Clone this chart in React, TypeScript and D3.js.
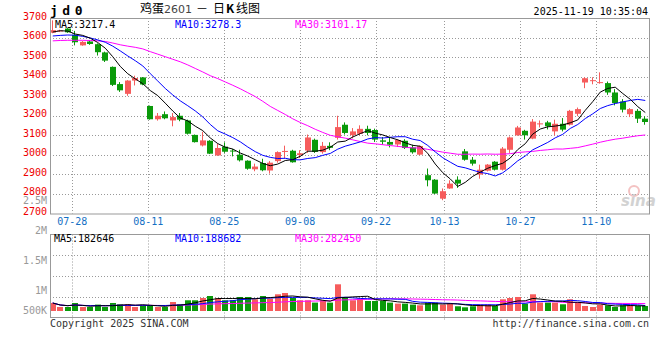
import React from 'react';
import * as d3 from 'd3';

// ---- data ----
const opens = [3625,3633,3646,3614,3560,3580,3566,3524,3450,3362,3312,3380,3396,3250,3182,3208,3176,3200,3176,3102,3048,3072,2997,3042,3022,3001,2970,2926,2958,2920,2968,3016,3021,2999,3022,3077,3014,3046,3087,3154,3101,3108,3133,3127,3074,3066,3053,3072,3038,3001,2896,2873,2776,2828,2873,3018,2975,2899,2919,2965,2924,3026,3100,3123,3083,3156,3166,3120,3159,3154,3210,3370,3378,3368,3367,3319,3273,3208,3225,3185];
const highs = [3688,3640,3648,3634,3582,3585,3570,3528,3452,3372,3382,3405,3398,3252,3214,3222,3214,3214,3180,3104,3118,3075,3056,3064,3030,3026,2972,2955,2980,2968,3018,3047,3026,3024,3104,3083,3066,3064,3200,3166,3137,3151,3149,3134,3091,3086,3080,3080,3052,3047,2930,2876,2828,2870,2890,3030,2989,2950,2953,2968,3040,3094,3148,3128,3183,3176,3174,3180,3188,3230,3242,3397,3397,3422,3375,3336,3285,3239,3234,3197];
const lows = [3622,3628,3624,3560,3558,3563,3508,3475,3352,3322,3302,3355,3356,3180,3175,3182,3146,3172,3104,3063,3043,3004,2995,3010,2992,2966,2924,2916,2916,2904,2960,2982,2960,2984,3010,3010,3006,3024,3078,3104,3084,3100,3100,3066,3052,3038,3040,3030,3006,2998,2839,2800,2768,2826,2831,2970,2945,2878,2915,2920,2920,3010,3098,3078,3080,3140,3130,3100,3120,3150,3198,3341,3361,3364,3307,3253,3217,3193,3163,3154];
const closes = [3638,3636,3627,3576,3578,3567,3525,3482,3358,3330,3380,3393,3360,3182,3200,3187,3193,3180,3108,3065,3074,3006,3035,3016,3018,2972,2929,2940,2921,2960,3014,3020,2962,3008,3089,3015,3046,3036,3142,3112,3120,3133,3112,3078,3067,3052,3076,3035,3013,3045,2870,2802,2814,2853,2853,2975,2955,2924,2950,2924,3032,3089,3140,3100,3170,3161,3146,3159,3129,3225,3234,3392,3382,3372,3319,3265,3231,3234,3185,3168];
const volumes = [267000,133000,133000,267000,133000,133000,213000,133000,267000,223000,223000,133000,190000,190000,133000,133000,300000,223000,357000,357000,433000,500000,433000,357000,357000,467000,467000,390000,500000,413000,557000,600000,433000,357000,357000,280000,357000,280000,890000,467000,357000,413000,333000,333000,333000,280000,247000,247000,213000,190000,280000,280000,213000,257000,157000,123000,157000,213000,213000,167000,390000,433000,467000,247000,557000,280000,280000,280000,223000,390000,280000,167000,133000,213000,190000,133000,190000,190000,167000,167000];
// moving-average values before enough history is inside the window
const ma5Early = [3628, 3635, 3633, 3618];
const ma10Early = [3608, 3611, 3613, 3612, 3606, 3598, 3588, 3576, 3556];
const ma30Early = [3583,3585,3586,3586,3586,3585,3583,3580,3572,3563,3556,3550,3542,3528,3515,3502,3489,3476,3460,3442,3424,3405,3390,3373,3356,3338,3318,3298,3274];

const tickIndex = [3, 13, 23, 33, 43, 52, 62, 72];
const tickLabels = ['07-28', '08-11', '08-25', '09-08', '09-22', '10-13', '10-27', '11-10'];
const priceTicks = [3700, 3600, 3500, 3400, 3300, 3200, 3100, 3000, 2900, 2800, 2700];
const volTickValues = [2500000, 2000000, 1500000, 1000000, 500000];
const volTickLabels = ['2.5M', '2M', '1.5M', '1M', '500K'];
const mainMaLabels = ['MA5:3217.4', 'MA10:3278.3', 'MA30:3101.17'];
const volMaLabels = ['MA5:182646', 'MA10:188682', 'MA30:282450'];
const maColors = ['#000000', '#0000ff', '#ff00ff'];

const RED = '#f65c5c';
const GREEN = '#0a9a0a';
const MONO = "'DejaVu Sans Mono', 'Liberation Mono', monospace";
const CJK = "'Noto Sans CJK SC', sans-serif";

function movingAvg(vals: number[], n: number, early: number[] | null): number[] {
  return vals.map((_, i) => {
    if (i < n - 1) {
      if (early) return early[i];
      return d3.mean(vals.slice(0, i + 1)) as number;
    }
    return d3.mean(vals.slice(i - n + 1, i + 1)) as number;
  });
}

export default function App() {
  const L = 50, R = 649, T = 18, B = 213.5;
  const VT = 234.5, VB = 317.5;
  const n = closes.length;

  const x = d3.scaleBand<number>().domain(d3.range(n)).range([49, 649]).paddingInner(0.2).paddingOuter(0.1);
  const bw = x.bandwidth();
  const cx = (i: number) => (x(i) as number) + bw / 2;
  const gx = d3.scaleLinear().domain([0, n - 1]).range([49.5, 649.5]);
  const y = d3.scaleLinear().domain([2700, 3700]).range([B, T]);
  const yv = d3.scaleLinear().domain([0, 1000000]).range([311, 281]);
  const yvLabel = d3.scaleLinear().domain([1000000, 2000000]).range([290.5, 230.5]);

  const ma5 = movingAvg(closes, 5, ma5Early);
  const ma10 = movingAvg(closes, 10, ma10Early);
  const ma30 = movingAvg(closes, 30, ma30Early);
  const vma5 = movingAvg(volumes, 5, null);
  const vma10 = movingAvg(volumes, 10, null);
  const vma30 = movingAvg(volumes, 30, null);

  const line = d3.line<number>().x((_, i) => cx(i)).y((d) => y(d));
  const vline = d3.line<number>().x((_, i) => cx(i)).y((d) => yv(d));

  const snap = (v: number) => Math.round(v) + 0.5;
  const volGridYs = d3.range(1, 4).map((k) => VT + ((VB - VT) * k) / 4);

  return (
    <svg width={660} height={360} style={{ position: 'absolute', left: 0, top: 0, background: '#fff' }}>
      <rect x={0} y={0} width={660} height={360} fill="#fff" />
      {/* header */}
      <text x={50} y={15} fontFamily={MONO} fontWeight="bold" fontSize={13} letterSpacing={4.5} fill="#000">jd0</text>
      <text y={13} fontFamily={CJK} fontSize={12} fill="#000">
        <tspan x={140}>鸡蛋</tspan>
        <tspan x={164} fill="#444" fontFamily="'DejaVu Sans', sans-serif" fontSize={11}>2601</tspan>
        <tspan x={196}>－</tspan>
        <tspan x={213}>日</tspan>
        <tspan x={226} fontWeight="bold">K</tspan>
        <tspan x={236}>线图</tspan>
      </text>
      <text x={648} y={15} textAnchor="end" fontFamily={MONO} fontSize={10} fill="#000">2025-11-19 10:35:04</text>

      {/* main grid */}
      {priceTicks.filter((p) => p > 2700 && p < 3700).map((p) => (
        <line key={'hg' + p} x1={L} x2={R} y1={snap(y(p))} y2={snap(y(p))} stroke="#999" strokeDasharray="1,2" />
      ))}
      {tickIndex.map((t) => (
        <line key={'vg' + t} x1={snap(gx(t))} x2={snap(gx(t))} y1={T} y2={B} stroke="#999" strokeDasharray="1,2" />
      ))}
      {/* volume grid */}
      {volGridYs.map((gy, k) => (
        <line key={'vh' + k} x1={L} x2={R} y1={snap(gy)} y2={snap(gy)} stroke="#999" strokeDasharray="1,2" />
      ))}
      {tickIndex.map((t) => (
        <line key={'vv' + t} x1={snap(gx(t))} x2={snap(gx(t))} y1={VT} y2={VB + 2} stroke="#999" strokeDasharray="1,2" />
      ))}

      {/* price labels */}
      {priceTicks.map((p) => (
        <text key={'pl' + p} x={47} y={y(p) - 2} dy="0.35em" textAnchor="end" fontFamily={MONO} fontSize={10} fill="#ee0000">{p}</text>
      ))}
      {/* volume labels */}
      {volTickValues.map((v, k) => (
        <text key={'vl' + k} x={47} y={Math.min(yvLabel(v), 310.5)} dy="0.35em" textAnchor="end" fontFamily={MONO} fontSize={10} fill="#999">{volTickLabels[k]}</text>
      ))}
      {/* date labels */}
      {tickIndex.map((t, k) => (
        <text key={'dl' + t} x={gx(t)} y={221} dy="0.35em" textAnchor="middle" fontFamily={MONO} fontSize={10} fill="#1470c4">{tickLabels[k]}</text>
      ))}

      {/* watermark */}
      <g opacity={0.8}>
        <circle cx={634} cy={191} r={5} fill="none" stroke="#f2b4b4" strokeWidth={2} />
        <text x={621} y={206} fontFamily="'DejaVu Sans', sans-serif" fontStyle="italic" fontWeight="bold" fontSize={15} fill="#c8c8c8">sina</text>
      </g>

      {/* candles */}
      {closes.map((c, i) => {
        const o = opens[i];
        const up = c >= o;
        const col = up ? RED : GREEN;
        const top = y(Math.max(o, c));
        const bot = y(Math.min(o, c));
        const xl = Math.round(x(i) as number);
        const wx = xl + 2.5;
        return (
          <g key={'c' + i}>
            <line x1={wx} x2={wx} y1={y(highs[i])} y2={y(lows[i])} stroke={col} />
            <rect x={xl} y={top} width={Math.round(bw)} height={Math.max(1, bot - top)} fill={col} />
          </g>
        );
      })}

      {/* moving averages */}
      <path d={line(ma30) || ''} fill="none" stroke={maColors[2]} strokeWidth={1} />
      <path d={line(ma10) || ''} fill="none" stroke={maColors[1]} strokeWidth={1} />
      <path d={line(ma5) || ''} fill="none" stroke={maColors[0]} strokeWidth={1} />

      {/* volume bars */}
      {volumes.map((v, i) => {
        const up = closes[i] >= opens[i];
        return (
          <rect key={'v' + i} x={Math.round(x(i) as number)} y={yv(v)} width={Math.round(bw)} height={311 - yv(v)} fill={up ? RED : GREEN} />
        );
      })}
      <path d={vline(vma30) || ''} fill="none" stroke={maColors[2]} strokeWidth={1} />
      <path d={vline(vma10) || ''} fill="none" stroke={maColors[1]} strokeWidth={1} />
      <path d={vline(vma5) || ''} fill="none" stroke={maColors[0]} strokeWidth={1} />

      {/* panel borders */}
      <rect x={L + 0.5} y={T + 0.5} width={R - L} height={B - T} fill="none" stroke="#999" />
      <rect x={L + 0.5} y={VT} width={R - L} height={VB - VT} fill="none" stroke="#999" />

      {/* MA legends */}
      {mainMaLabels.map((s, k) => (
        <text key={'ml' + k} x={[55, 175, 295][k]} y={24.5} dy="0.35em" fontFamily={MONO} fontSize={10} fill={maColors[k]}>{s}</text>
      ))}
      {volMaLabels.map((s, k) => (
        <text key={'vml' + k} x={[54, 175, 295][k]} y={238.7} dy="0.35em" fontFamily={MONO} fontSize={10} fill={maColors[k]}>{s}</text>
      ))}

      {/* footer */}
      <text x={50} y={323.5} dy="0.35em" fontFamily={MONO} fontSize={10} fill="#333">Copyright 2025 SINA.COM</text>
      <text x={649} y={323.5} dy="0.35em" textAnchor="end" fontFamily={MONO} fontSize={10} fill="#333">http://finance.sina.com.cn</text>
    </svg>
  );
}
